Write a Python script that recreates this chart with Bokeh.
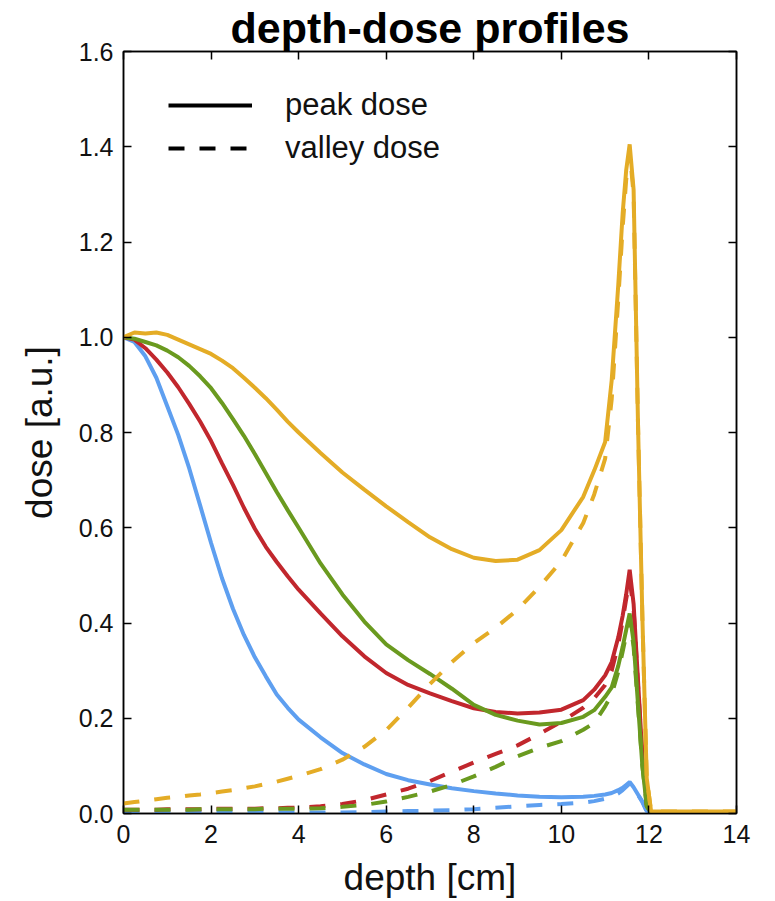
from bokeh.plotting import figure
from bokeh.models import Range1d, LinearAxis, FixedTicker, Legend, LegendItem, NumeralTickFormatter
from bokeh.embed import file_html
from bokeh.resources import INLINE

# ---- data ----
depth = [0, 0.25, 0.5, 0.75, 1.0, 1.25, 1.5, 1.75, 2.0, 2.25, 2.5, 2.75, 3.0, 3.25, 3.5, 3.75,
         4.0, 4.5, 5.0, 5.5, 6.0, 6.5, 7.0, 7.5, 8.0, 8.5, 9.0, 9.5, 10.0, 10.5, 10.75,
         11.0, 11.15, 11.3, 11.4, 11.48, 11.56, 11.65, 11.75, 11.85, 11.95, 12.05,
         12.5, 13.0, 13.5, 14.0]

blue_peak = [1.0, 0.99, 0.96, 0.915, 0.855, 0.795, 0.725, 0.647, 0.568, 0.494, 0.43, 0.375,
             0.328, 0.288, 0.25, 0.222, 0.197, 0.16, 0.127, 0.103, 0.083, 0.07, 0.061, 0.053,
             0.047, 0.042, 0.038, 0.035, 0.034, 0.035, 0.037, 0.04, 0.043, 0.049, 0.054, 0.06,
             0.066, 0.055, 0.04, 0.025, 0.005, 0.001, 0.001, 0.001, 0.001, 0.001]
blue_valley = [0.002, 0.002, 0.002, 0.002, 0.002, 0.002, 0.002, 0.002, 0.002, 0.002, 0.002, 0.002,
               0.002, 0.002, 0.002, 0.002, 0.002, 0.002, 0.002, 0.003, 0.004, 0.005, 0.006, 0.007,
               0.009, 0.012, 0.015, 0.018, 0.02, 0.023, 0.026, 0.031, 0.035, 0.042, 0.049, 0.056,
               0.063, 0.053, 0.039, 0.024, 0.005, 0.001, 0.001, 0.001, 0.001, 0.001]

red_peak = [1.0, 0.995, 0.977, 0.953, 0.926, 0.895, 0.86, 0.823, 0.782, 0.735, 0.69, 0.642,
            0.598, 0.56, 0.528, 0.498, 0.47, 0.42, 0.372, 0.33, 0.295, 0.27, 0.252, 0.236,
            0.221, 0.213, 0.21, 0.212, 0.218, 0.238, 0.26, 0.29, 0.318, 0.37, 0.415, 0.46,
            0.512, 0.44, 0.28, 0.12, 0.02, 0.002, 0.002, 0.002, 0.002, 0.002]
red_valley = [0.008, 0.008, 0.008, 0.008, 0.009, 0.009, 0.009, 0.009, 0.01, 0.01, 0.01, 0.01,
              0.01, 0.011, 0.011, 0.012, 0.012, 0.015, 0.02, 0.028, 0.04, 0.052, 0.068, 0.088,
              0.107, 0.125, 0.143, 0.167, 0.193, 0.222, 0.242, 0.27, 0.30, 0.355, 0.405, 0.45,
              0.49, 0.43, 0.27, 0.12, 0.02, 0.002, 0.002, 0.002, 0.002, 0.002]

green_peak = [1.0, 0.997, 0.99, 0.983, 0.972, 0.958, 0.94, 0.918, 0.893, 0.862, 0.828, 0.793,
              0.755, 0.715, 0.675, 0.637, 0.60, 0.525, 0.46, 0.403, 0.355, 0.322, 0.293, 0.262,
              0.228, 0.207, 0.195, 0.187, 0.19, 0.203, 0.217, 0.245, 0.265, 0.31, 0.35, 0.385,
              0.42, 0.36, 0.23, 0.10, 0.015, 0.002, 0.002, 0.002, 0.002, 0.002]
green_valley = [0.008, 0.008, 0.008, 0.008, 0.008, 0.008, 0.008, 0.009, 0.009, 0.009, 0.009, 0.009,
                0.009, 0.01, 0.01, 0.01, 0.01, 0.011, 0.014, 0.018, 0.025, 0.035, 0.046, 0.06,
                0.078, 0.098, 0.12, 0.138, 0.152, 0.176, 0.19, 0.225, 0.25, 0.298, 0.34, 0.375,
                0.41, 0.35, 0.225, 0.10, 0.015, 0.002, 0.002, 0.002, 0.002, 0.002]

yellow_peak = [1.0, 1.01, 1.008, 1.01, 1.005, 0.995, 0.985, 0.975, 0.965, 0.951, 0.935, 0.915,
               0.894, 0.872, 0.848, 0.823, 0.80, 0.757, 0.716, 0.68, 0.645, 0.612, 0.58, 0.555,
               0.537, 0.53, 0.533, 0.553, 0.595, 0.665, 0.72, 0.78, 0.91, 1.11, 1.26, 1.35,
               1.405, 1.31, 0.82, 0.413, 0.074, 0.004, 0.004, 0.004, 0.004, 0.004]
yellow_valley = [0.021, 0.024, 0.027, 0.03, 0.033, 0.035, 0.038, 0.04, 0.043, 0.046, 0.049, 0.053,
                 0.057, 0.062, 0.067, 0.073, 0.079, 0.093, 0.113, 0.14, 0.175, 0.222, 0.272, 0.318,
                 0.358, 0.39, 0.428, 0.476, 0.53, 0.61, 0.67, 0.745, 0.87, 1.08, 1.23, 1.33,
                 1.39, 1.30, 0.82, 0.413, 0.074, 0.004, 0.004, 0.004, 0.004, 0.004]

colors = {"blue": "#5e9ff0", "red": "#c1272d", "green": "#6a9a1f", "yellow": "#e4ac26"}
series = [("blue", blue_peak, blue_valley), ("red", red_peak, red_valley),
          ("green", green_peak, green_valley), ("yellow", yellow_peak, yellow_valley)]

x_ticks = [0, 2, 4, 6, 8, 10, 12, 14]
y_ticks = [0.0, 0.2, 0.4, 0.6, 0.8, 1.0, 1.2, 1.4, 1.6]

FONT = "Liberation Sans"
TXT = "#111111"

p = figure(width=760, height=900, output_backend="svg", toolbar_location=None,
           x_range=Range1d(0, 14), y_range=Range1d(0, 1.6),
           title="depth-dose profiles",
           min_border_left=123, min_border_right=24, min_border_top=51, min_border_bottom=87)
p.background_fill_color = "white"
p.border_fill_color = "white"
p.outline_line_color = "black"
p.outline_line_width = 1.5
p.xgrid.visible = False
p.ygrid.visible = False

p.title.text_font = FONT
p.title.text_font_size = "43px"
p.title.text_font_style = "bold"
p.title.text_color = "black"
p.title.align = "center"
p.title.standoff = 0
p.title.offset = 0

LW = 4
DASH = "16 15"
for name, pk, vl in series:
    c = colors[name]
    p.line(depth, pk, line_color=c, line_width=LW)
    p.line(depth, vl, line_color=c, line_width=LW, line_dash=DASH)

def style_axis(ax, labels=True):
    ax.axis_line_color = "black"
    ax.axis_line_width = 1.5
    ax.major_tick_line_color = "black"
    ax.major_tick_line_width = 1.5
    ax.major_tick_in = 8
    ax.major_tick_out = 0
    ax.minor_tick_line_color = None
    ax.major_label_text_font = FONT
    if labels:
        ax.major_label_text_color = TXT
        ax.major_label_text_font_size = "25px"
        ax.major_label_standoff = 11
    else:
        ax.major_label_text_color = None
        ax.major_label_text_font_size = "1px"
        ax.major_label_standoff = 0

p.xaxis.ticker = FixedTicker(ticks=x_ticks)
p.yaxis.ticker = FixedTicker(ticks=y_ticks)
p.yaxis.formatter = NumeralTickFormatter(format="0.0")
p.xaxis.axis_label = "depth [cm]"
p.yaxis.axis_label = "dose [a.u.]"
for ax in (p.xaxis[0], p.yaxis[0]):
    style_axis(ax)
    ax.axis_label_text_font = FONT
    ax.axis_label_text_font_size = "37px"
    ax.axis_label_text_font_style = "normal"
    ax.axis_label_text_color = TXT
p.xaxis.major_label_standoff = 11
p.xaxis.axis_label_standoff = 11
p.yaxis.major_label_standoff = 10
p.yaxis.axis_label_standoff = 16

top_ax = LinearAxis(ticker=FixedTicker(ticks=x_ticks))
right_ax = LinearAxis(ticker=FixedTicker(ticks=y_ticks))
style_axis(top_ax, labels=False)
style_axis(right_ax, labels=False)
p.add_layout(top_ax, "above")
p.add_layout(right_ax, "right")

# legend (line-style key); the key renderers hold no visible data
nan = float("nan")
solid_key = p.line([nan], [nan], line_color="black", line_width=LW)
dash_key = p.line([nan], [nan], line_color="black", line_width=LW, line_dash=DASH)
legend = Legend(items=[LegendItem(label="peak dose", renderers=[solid_key]),
                       LegendItem(label="valley dose", renderers=[dash_key])],
                location=(45, 647))
legend.border_line_color = None
legend.background_fill_alpha = 0
legend.label_text_font = FONT
legend.label_text_font_size = "31px"
legend.label_text_color = TXT
legend.glyph_width = 84
legend.glyph_height = 24
legend.label_standoff = 33
legend.spacing = 7
legend.margin = 0
legend.padding = 0
p.add_layout(legend)

open("out.html", "w").write(file_html(p, INLINE))
